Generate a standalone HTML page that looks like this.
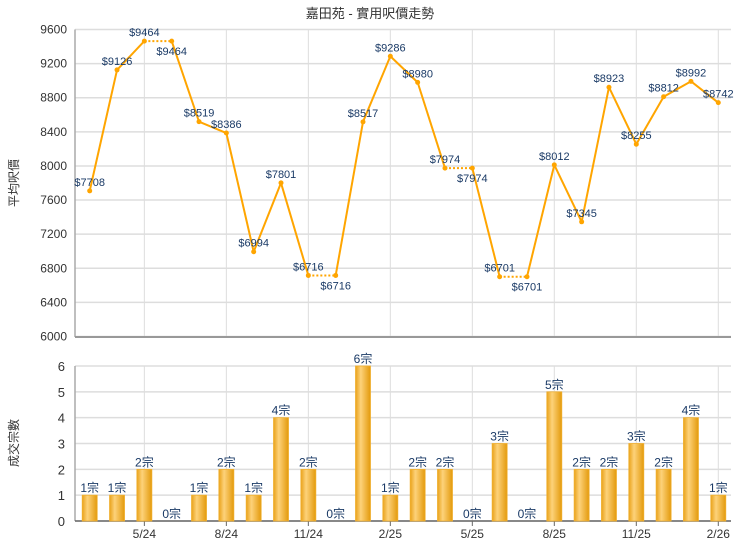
<!DOCTYPE html>
<html><head><meta charset="utf-8"><style>
body{margin:0;background:#fff;}
svg{display:block;font-family:"Liberation Sans","Noto Sans CJK TC",sans-serif;}
</style></head><body>
<svg id="c" width="740" height="550">
<defs>
<linearGradient id="bg" x1="0" x2="1" y1="0" y2="0">
<stop offset="0" stop-color="#e9a21a"/><stop offset="0.35" stop-color="#fdd27a"/><stop offset="1" stop-color="#e39a0c"/>
</linearGradient>
</defs>
<text x="370" y="18" text-anchor="middle" font-size="13" fill="#333">嘉田苑 - 實用呎價走勢</text>
<text transform="translate(18,183) rotate(-90)" text-anchor="middle" font-size="12" fill="#333">平均呎價</text>
<text transform="translate(18,443) rotate(-90)" text-anchor="middle" font-size="12" fill="#333">成交宗數</text>
<g id="g"></g>
</svg>
<script>
const labels=["5/24","8/24","11/24","2/25","5/25","8/25","11/25","2/26"];
const labelIdx=[2,5,8,11,14,17,20,23];
const prices=[7708,9126,9464,9464,8519,8386,6994,7801,6716,6716,8517,9286,8980,7974,7974,6701,6701,8012,7345,8923,8255,8812,8992,8742];
const counts=[1,1,2,0,1,2,1,4,2,0,6,1,2,2,0,3,0,5,2,2,3,2,4,1];
const priceTicks=[6000,6400,6800,7200,7600,8000,8400,8800,9200,9600];
const countTicks=[0,1,2,3,4,5,6];
const NS="http://www.w3.org/2000/svg";
const g=document.getElementById('g');
const L=75,R=731;
const xs=i=>89.7+i*27.33;
const yp=v=>29.5+(9600-v)/3600*307;
const yc=v=>521-v/6*155;
function el(t,a,p){const e=document.createElementNS(NS,t);for(const k in a)e.setAttribute(k,a[k]);(p||g).appendChild(e);return e;}
// price grid
priceTicks.forEach(v=>{
 const l=el('line',{x1:L,x2:R,y1:yp(v),y2:yp(v),stroke:'#ddd','stroke-width':1.5});
 
 
 const t=el('text',{x:L-8,y:yp(v)+4,'text-anchor':'end','font-size':12,fill:'#333'});t.textContent=v;
 
 
});
countTicks.forEach(v=>{
 const l=el('line',{x1:L,x2:R,y1:yc(v),y2:yc(v),stroke:'#ddd','stroke-width':1.5});
 
 
 const t=el('text',{x:L-10,y:yc(v)+5,'text-anchor':'end','font-size':13,fill:'#333'});t.textContent=v;
 
 
});
labelIdx.forEach((i,k)=>{
 const x=xs(i);
 el('line',{x1:x,x2:x,y1:29.5,y2:336.5,stroke:'#ddd'});
 el('line',{x1:x,x2:x,y1:366,y2:521,stroke:'#ddd'});
 el('line',{x1:x,x2:x,y1:521,y2:526,stroke:'#666'});
 const t=el('text',{x:x,y:538,'text-anchor':'middle','font-size':12,fill:'#333'});t.textContent=labels[k];
 
 
});
// axes
el('line',{x1:L,x2:L,y1:29.5,y2:337,stroke:'#aaa','stroke-width':1.5});
el('line',{x1:L,x2:R,y1:337,y2:337,stroke:'#999','stroke-width':2});
el('line',{x1:L,x2:L,y1:366,y2:521,stroke:'#aaa','stroke-width':1.5});
el('line',{x1:L,x2:R,y1:521,y2:521,stroke:'#666','stroke-width':1.5});
// line
for(let i=0;i<prices.length-1;i++){
 const same=prices[i]===prices[i+1];
 const s=el('line',{x1:xs(i),y1:yp(prices[i]),x2:xs(i+1),y2:yp(prices[i+1]),stroke:'#ffa500','stroke-width':2,'stroke-dasharray':same?'2,2':'none'});
 
 
}
prices.forEach((v,i)=>{
 const c=el('circle',{cx:xs(i),cy:yp(v),r:2.5,fill:'#ffa500'});
 
 
 const below=i>0&&prices[i-1]===v;
 const t=el('text',{x:xs(i),y:below?yp(v)+14:yp(v)-5,'text-anchor':'middle','font-size':11,fill:'#1a3a66'});
 t.textContent='$'+v;
 
 
});
counts.forEach((v,i)=>{
 const x=xs(i);
 if(v>0){
  const b=el('rect',{x:x-7.5,y:yc(v),width:15,height:521-yc(v),fill:'url(#bg)',stroke:'#f0b030','stroke-width':0.8});
  
  
 }
 const t=el('text',{x:x,y:yc(v)-3,'text-anchor':'middle','font-size':12,fill:'#1a3a66'});
 t.textContent=v+'宗';
 
 
});
</script>
</body></html>
